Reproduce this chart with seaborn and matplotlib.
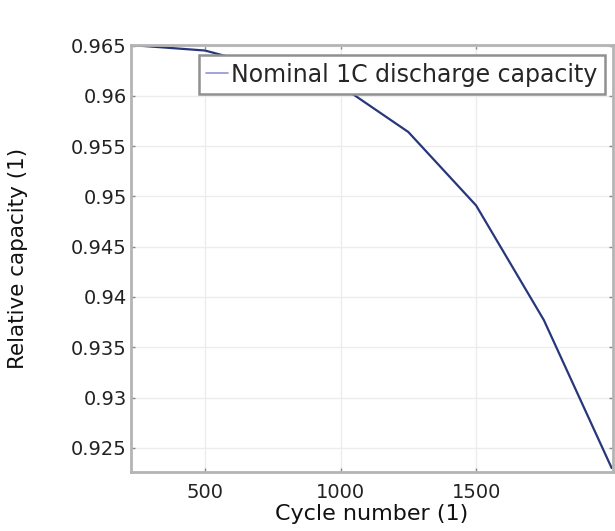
#!/usr/bin/env python3
"""Relative capacity fade vs cycle number."""
import matplotlib

matplotlib.use("Agg")
import matplotlib.pyplot as plt
import pandas as pd
import seaborn as sns

# values
cycles = [0, 250, 500, 750, 1000, 1250, 1500, 1750, 2000]
capacity = [0.9652, 0.9650, 0.9645, 0.9627, 0.9610, 0.9564, 0.9491, 0.9377, 0.9230]
series_label = "Nominal 1C discharge capacity"
x_ticks = [500, 1000, 1500]
y_ticks = [0.925, 0.93, 0.935, 0.94, 0.945, 0.95, 0.955, 0.96, 0.965]

LINE_COLOR = "#27377a"
AXIS_GRAY = "#b4b4b4"

sns.set_theme(style="whitegrid")
plt.rcParams["font.family"] = ["DejaVu Sans"]

df = pd.DataFrame({"cycle": cycles, "capacity": capacity})

fig = plt.figure(figsize=(6.15, 5.31), dpi=100)
ax = fig.add_axes([131 / 615, 1 - 472 / 531, 482 / 615, 427 / 531])

sns.lineplot(data=df, x="cycle", y="capacity", ax=ax, color=LINE_COLOR,
             linewidth=1.6, label=series_label)

ax.set_xlim(227, 2005)
ax.set_ylim(0.9226, 0.96505)
ax.set_xticks(x_ticks)
ax.set_yticks(y_ticks)
ax.set_xticklabels([str(t) for t in x_ticks])
ax.set_yticklabels([f"{t:g}" for t in y_ticks])

ax.set_facecolor("white")
ax.grid(True, color="#ececec", linewidth=1.0)
for side in ax.spines.values():
    side.set_visible(True)
    side.set_color(AXIS_GRAY)
    side.set_linewidth(2.0)

ax.tick_params(axis="both", direction="in", length=3, width=1, color="#888888",
               labelsize=14, labelcolor="#222222",
               top=True, right=True, bottom=True, left=True)
ax.tick_params(axis="x", pad=8)
ax.tick_params(axis="y", pad=3)

ax.set_xlabel("Cycle number (1)", fontsize=16, color="#111111", labelpad=1)
ax.set_ylabel("Relative capacity (1)", fontsize=15.5, color="#111111", labelpad=31)

leg = ax.legend(loc="upper right", bbox_to_anchor=(0.984, 0.977), borderaxespad=0,
                fancybox=False, framealpha=1, edgecolor="#909090", fontsize=17,
                handlelength=0.9, handletextpad=0.15, borderpad=0.33)
leg.get_frame().set_linewidth(1.8)
for h in leg.get_lines():
    h.set_linewidth(1.2)
    h.set_color("#8c96d6")

fig.savefig("out.png", dpi=100)
